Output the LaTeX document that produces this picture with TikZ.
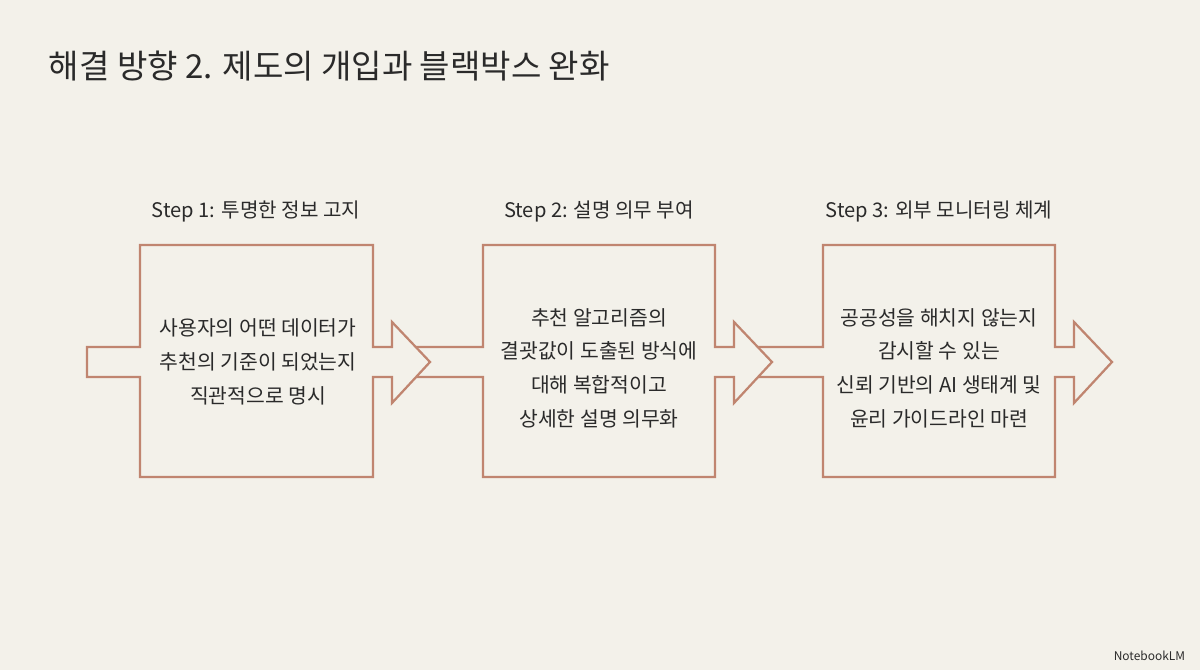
\documentclass[tikz,border=0pt]{standalone}
\usepackage{fontspec}
\setmainfont{Noto Sans CJK KR}
\definecolor{bg}{HTML}{F3F1EA}
\definecolor{br}{HTML}{C08570}
\definecolor{tx}{HTML}{2A2A2A}
\begin{document}
\begin{tikzpicture}[x=0.025cm,y=-0.025cm,
  flow/.style={draw=br,line width=1.6pt,line join=miter},
  body/.style={align=center,text=tx,font=\fontsize{14.5pt}{24pt}\selectfont},
  steplbl/.style={text=tx,font=\fontsize{14.3pt}{18pt}\selectfont}]
\fill[bg] (0,0) rectangle (1200,670);
\useasboundingbox (0,0) rectangle (1200,670);
\node[anchor=west,text=tx,font=\fontsize{23.5pt}{28pt}\selectfont] (title) at (44,66) {해결 방향 2. 제도의 개입과 블랙박스 완화};
% unit 1
\draw[flow] (87,347) -- (140,347) -- (140,245) -- (373,245) -- (373,347) -- (392,347) -- (392,322) -- (430,362) -- (392,403) -- (392,377) -- (373,377) -- (373,477) -- (140,477) -- (140,377) -- (87,377) -- cycle;
% unit 2
\draw[flow] (416,347) -- (483,347) -- (483,245) -- (715,245) -- (715,347) -- (734,347) -- (734,322) -- (772,362) -- (734,403) -- (734,377) -- (715,377) -- (715,477) -- (483,477) -- (483,377) -- (416,377);
% unit 3
\draw[flow] (758,347) -- (823,347) -- (823,245) -- (1055,245) -- (1055,347) -- (1074,347) -- (1074,322) -- (1112,362) -- (1074,403) -- (1074,377) -- (1055,377) -- (1055,477) -- (823,477) -- (823,377) -- (758,377);
\node[steplbl] (s1) at (256,211) {Step 1: 투명한 정보 고지};
\node[steplbl] (s2) at (599,211) {Step 2: 설명 의무 부여};
\node[steplbl] (s3) at (939,211) {Step 3: 외부 모니터링 체계};
\node[body] (b1) at (258,362) {사용자의 어떤 데이터가\\추천의 기준이 되었는지\\직관적으로 명시};
\node[body] (b2) at (599,368) {추천 알고리즘의\\결괏값이 도출된 방식에\\대해 복합적이고\\상세한 설명 의무화};
\node[body] (b3) at (939,368) {공공성을 해치지 않는지\\감시할 수 있는\\신뢰 기반의 AI 생태계 및\\윤리 가이드라인 마련};
\node[anchor=east,text=tx,font=\fontsize{8.5pt}{10pt}\selectfont] (logo) at (1190,656) {NotebookLM};
\end{tikzpicture}
\end{document}
